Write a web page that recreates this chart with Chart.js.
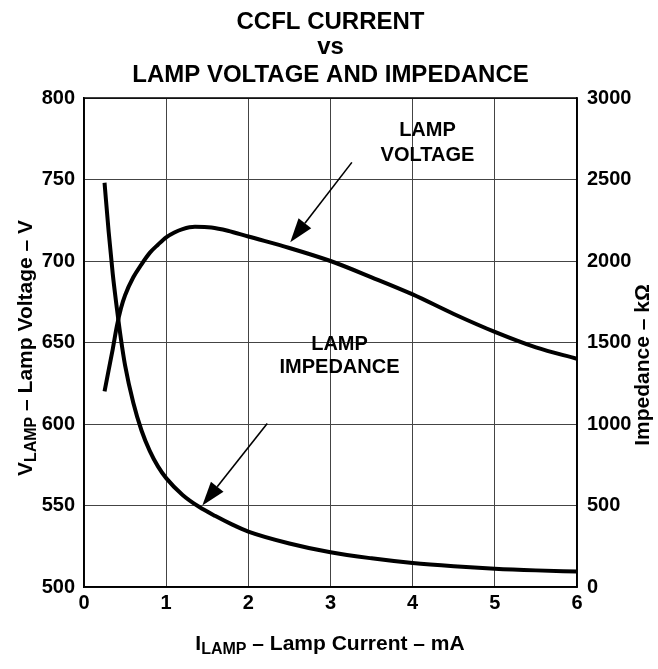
<!DOCTYPE html>
<html>
<head>
<meta charset="utf-8">
<script src="https://cdn.jsdelivr.net/npm/chart.js@4/dist/chart.umd.min.js"></script>
<style>
  html, body { margin: 0; padding: 0; background: #fff; }
  #wrap { width: 658px; height: 669px; position: relative; }
</style>
</head>
<body>
<div id="wrap"><canvas id="c" width="658" height="669"></canvas></div>
<script>
// ---- data ----
const titleLines = ["CCFL CURRENT", "vs", "LAMP VOLTAGE AND IMPEDANCE"];

const currentV = [0.25, 0.3, 0.35, 0.4, 0.45, 0.5, 0.6, 0.7, 0.8, 0.9, 1.0, 1.1, 1.2, 1.35, 1.55, 1.75, 2.0, 2.5, 3.0, 3.5, 4.0, 4.5, 5.0, 5.5, 6.0];
const voltage  = [620, 633, 646, 660, 671, 679, 690, 698, 705, 710, 714.5, 717.5, 719.6, 721, 720.6, 718.6, 715, 708, 700, 690, 679.5, 667.5, 656.5, 647, 640];

const currentZ  = [0.25, 0.3, 0.35, 0.4, 0.45, 0.5, 0.6, 0.7, 0.8, 0.9, 1.0, 1.2, 1.4, 1.6, 1.8, 2.0, 2.5, 3.0, 3.5, 4.0, 4.5, 5.0, 5.5, 6.0];
const impedance = [2480, 2180, 1920, 1710, 1520, 1360, 1130, 960, 835, 740, 668, 565, 492, 435, 384, 340, 267, 213, 176, 147, 127, 112, 102, 95];

const xTicks  = [0, 1, 2, 3, 4, 5, 6];
const vTicks  = [500, 550, 600, 650, 700, 750, 800];
const zTicks  = [0, 500, 1000, 1500, 2000, 2500, 3000];

// annotation anchors in data units (x = mA, y = volts on left axis)
const voltageLabel   = { x: 4.18, lines: ["LAMP", "VOLTAGE"], y: [780, 765] };
const voltageArrow   = { from: [3.26, 760.5], to: [2.51, 711.5] };
const impedanceLabel = { x: 3.11, lines: ["LAMP", "IMPEDANCE"], y: [649, 634.5] };
const impedanceArrow = { from: [2.23, 600.3], to: [1.44, 550] };

const FONT = "'Liberation Sans', Arial, Helvetica, sans-serif";
const tickFont = { family: FONT, size: 20, weight: 'bold' };

function drawArrow(ctx, x1, y1, x2, y2) {
  const ang = Math.atan2(y2 - y1, x2 - x1);
  const headLen = 24, headW = 8;
  const bx = x2 - headLen * Math.cos(ang), by = y2 - headLen * Math.sin(ang);
  ctx.beginPath();
  ctx.moveTo(x1, y1);
  ctx.lineTo(bx, by);
  ctx.lineWidth = 1.6;
  ctx.strokeStyle = '#000';
  ctx.stroke();
  ctx.beginPath();
  ctx.moveTo(x2, y2);
  ctx.lineTo(bx + headW * Math.sin(ang), by - headW * Math.cos(ang));
  ctx.lineTo(bx - headW * Math.sin(ang), by + headW * Math.cos(ang));
  ctx.closePath();
  ctx.fillStyle = '#000';
  ctx.fill();
}

function drawSubTitle(ctx, main, sub, rest, cx, cy, rot) {
  const big = "bold 21px " + FONT, small = "bold 16px " + FONT;
  ctx.save();
  ctx.translate(cx, cy);
  ctx.rotate(rot);
  ctx.font = big; const w1 = ctx.measureText(main).width;
  ctx.font = small; const w2 = ctx.measureText(sub).width;
  ctx.font = big; const w3 = ctx.measureText(rest).width;
  let x = -(w1 + w2 + w3) / 2;
  ctx.textBaseline = 'middle';
  ctx.textAlign = 'left';
  ctx.fillStyle = '#000';
  ctx.font = big; ctx.fillText(main, x, 0); x += w1;
  ctx.font = small; ctx.fillText(sub, x, 6); x += w2;
  ctx.font = big; ctx.fillText(rest, x, 0);
  ctx.restore();
}

const decorations = {
  id: 'decorations',
  afterDraw(chart) {
    const ctx = chart.ctx;
    const { x, y } = chart.scales;
    const a = chart.chartArea;
    ctx.save();
    // frame
    ctx.strokeStyle = '#000';
    ctx.lineWidth = 1.5;
    ctx.strokeRect(a.left, a.top, a.right - a.left, a.bottom - a.top);

    // title
    ctx.fillStyle = '#000';
    ctx.textAlign = 'center';
    ctx.textBaseline = 'middle';
    ctx.font = "bold 24px " + FONT;
    const cx = (a.left + a.right) / 2;
    ctx.fillText(titleLines[0], cx, 22);
    ctx.fillText(titleLines[1], cx, 47);
    ctx.fillText(titleLines[2], cx, 75);

    // annotation texts
    ctx.font = "bold 20px " + FONT;
    [voltageLabel, impedanceLabel].forEach(l => {
      l.lines.forEach((t, i) => ctx.fillText(t, x.getPixelForValue(l.x), y.getPixelForValue(l.y[i])));
    });
    [voltageArrow, impedanceArrow].forEach(ar => {
      drawArrow(ctx,
        x.getPixelForValue(ar.from[0]), y.getPixelForValue(ar.from[1]),
        x.getPixelForValue(ar.to[0]), y.getPixelForValue(ar.to[1]));
    });

    // axis titles
    drawSubTitle(ctx, "V", "LAMP", " \u2013 Lamp Voltage \u2013 V", 26, 348, -Math.PI / 2);
    drawSubTitle(ctx, "Impedance \u2013 k\u03A9", "", "", 643, 365, -Math.PI / 2);
    drawSubTitle(ctx, "I", "LAMP", " \u2013 Lamp Current \u2013 mA", 330, 644, 0);
    ctx.restore();
  }
};

const plainLabel = v => String(v);

new Chart(document.getElementById('c'), {
  type: 'line',
  data: {
    datasets: [
      {
        label: 'Lamp Voltage',
        data: currentV.map((v, i) => ({ x: v, y: voltage[i] })),
        yAxisID: 'y',
        borderColor: '#000',
        borderWidth: 4,
        pointRadius: 0,
        cubicInterpolationMode: 'monotone',
        fill: false
      },
      {
        label: 'Lamp Impedance',
        data: currentZ.map((v, i) => ({ x: v, y: impedance[i] })),
        yAxisID: 'y2',
        borderColor: '#000',
        borderWidth: 4,
        pointRadius: 0,
        cubicInterpolationMode: 'monotone',
        fill: false
      }
    ]
  },
  options: {
    responsive: false,
    animation: false,
    devicePixelRatio: 1,
    layout: { padding: { top: 98, left: 0, right: 0, bottom: 0 } },
    plugins: { legend: { display: false }, title: { display: false }, tooltip: { enabled: false } },
    scales: {
      x: {
        type: 'linear', min: 0, max: 6,
        afterBuildTicks: s => { s.ticks = xTicks.map(v => ({ value: v })); },
        ticks: { font: tickFont, color: '#000', padding: 4, callback: plainLabel },
        grid: { color: '#444', lineWidth: 1, drawTicks: false },
        border: { color: '#000', width: 1.5 },
        afterFit: s => { s.height = 669 - 587; }
      },
      y: {
        type: 'linear', position: 'left', min: 500, max: 800,
        afterBuildTicks: s => { s.ticks = vTicks.map(v => ({ value: v })); },
        ticks: { font: tickFont, color: '#000', padding: 9, callback: plainLabel },
        grid: { color: '#444', lineWidth: 1, drawTicks: false },
        border: { color: '#000', width: 1.5 },
        afterFit: s => { s.width = 84; }
      },
      y2: {
        type: 'linear', position: 'right', min: 0, max: 3000,
        afterBuildTicks: s => { s.ticks = zTicks.map(v => ({ value: v })); },
        ticks: { font: tickFont, color: '#000', padding: 10, callback: plainLabel },
        grid: { display: false, drawTicks: false },
        border: { color: '#000', width: 1.5 },
        afterFit: s => { s.width = 658 - 577; }
      }
    }
  },
  plugins: [decorations]
});
</script>
</body>
</html>
